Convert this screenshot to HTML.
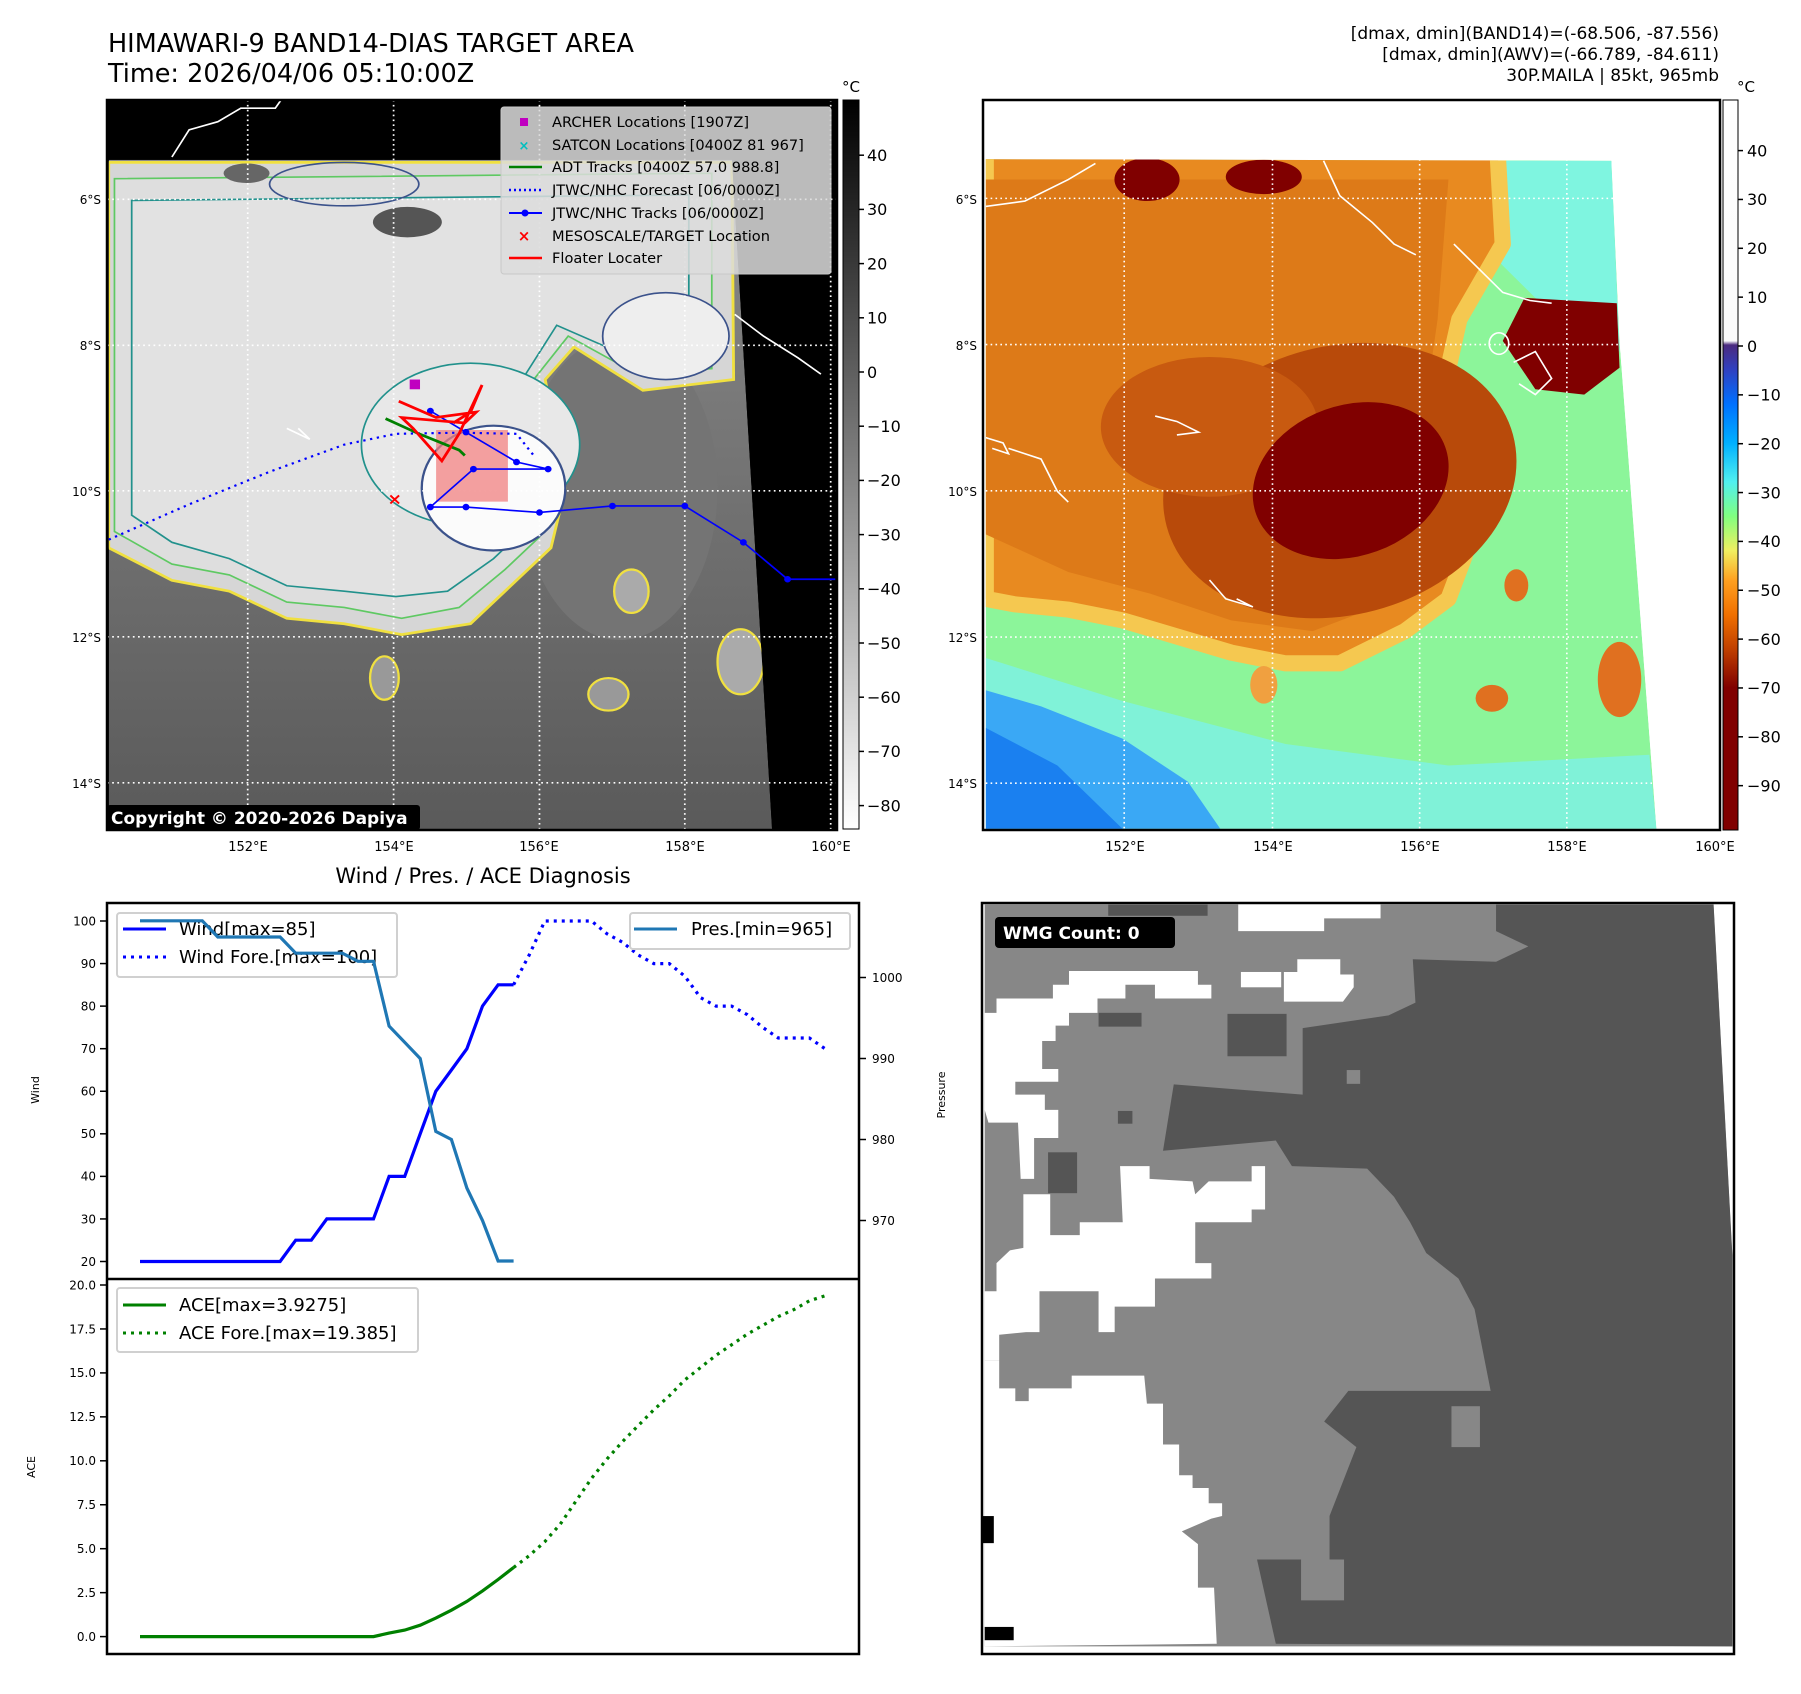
<!DOCTYPE html>
<html><head><meta charset="utf-8">
<style>
html,body{margin:0;padding:0;background:#fff;}
body{width:1801px;height:1690px;overflow:hidden;font-family:"DejaVu Sans","Liberation Sans",sans-serif;}
svg text{font-family:"DejaVu Sans","Liberation Sans",sans-serif;}
</style></head>
<body>
<svg id="root" width="1801" height="1690" viewBox="0 0 1801 1690" xmlns="http://www.w3.org/2000/svg">
<defs>
  <linearGradient id="cb1" x1="0" y1="0" x2="0" y2="1">
    <stop offset="0" stop-color="#000"/><stop offset="1" stop-color="#fff"/>
  </linearGradient>
  <linearGradient id="cb2" x1="0" y1="0" x2="0" y2="1">
    <stop offset="0" stop-color="#ffffff"/><stop offset="0.33" stop-color="#fafafa"/>
    <stop offset="0.3356" stop-color="#4b2a7f"/><stop offset="0.369" stop-color="#3040c0"/>
    <stop offset="0.416" stop-color="#0070ff"/><stop offset="0.47" stop-color="#00b0ff"/>
    <stop offset="0.523" stop-color="#50f0f0"/><stop offset="0.57" stop-color="#80ff80"/>
    <stop offset="0.617" stop-color="#f0f060"/><stop offset="0.658" stop-color="#ffa020"/>
    <stop offset="0.705" stop-color="#f07000"/><stop offset="0.752" stop-color="#c04000"/>
    <stop offset="0.805" stop-color="#800000"/><stop offset="1" stop-color="#800000"/>
  </linearGradient>
  <linearGradient id="lowgray" x1="0" y1="0" x2="0" y2="1">
    <stop offset="0" stop-color="#8a8a8a"/><stop offset="1" stop-color="#5a5a5a"/>
  </linearGradient>
</defs>

<!-- titles -->
<text x="108" y="52" font-size="25.5">HIMAWARI-9 BAND14-DIAS TARGET AREA</text>
<text x="108" y="82" font-size="25.5">Time: 2026/04/06 05:10:00Z</text>
<g font-size="17" text-anchor="end">
  <text x="1719" y="39">[dmax, dmin](BAND14)=(-68.506, -87.556)</text>
  <text x="1719" y="60">[dmax, dmin](AWV)=(-66.789, -84.611)</text>
  <text x="1719" y="81">30P.MAILA | 85kt, 965mb</text>
</g>

<!-- MAP 1 -->
<svg x="107" y="100" width="730" height="730" viewBox="187 185 1271 1345" preserveAspectRatio="none">
  <defs><clipPath id="m1clip"><polygon points="190,295 1275,295 1345,1530 190,1530"/></clipPath></defs>
  <rect x="187" y="185" width="1271" height="1345" fill="#000"/>
  <g clip-path="url(#m1clip)">
  <polygon points="190,295 1275,295 1345,1530 190,1530" fill="url(#lowgray)"/>
  <ellipse cx="1080" cy="900" rx="170" ry="280" fill="#747474"/>
  <polygon points="190,300 1275,300 1278,700 1120,720 1000,640 950,700 985,900 960,1010 900,1070 820,1150 700,1170 600,1150 500,1140 400,1090 300,1070 190,1010" fill="#d6d6d6" stroke="#f0e040" stroke-width="5"/>
  <polygon points="200,330 1240,320 1240,680 1110,690 990,620 930,700 960,900 940,990 880,1050 800,1120 700,1140 600,1120 500,1110 400,1060 300,1040 200,980" fill="#dedede" stroke="#5ec962" stroke-width="3"/>
  <polygon points="230,370 1200,360 1200,650 1100,660 970,600 910,700 940,900 910,980 860,1030 780,1090 690,1100 600,1090 500,1080 400,1030 300,1000 230,950" fill="#e2e2e2" stroke="#21918c" stroke-width="3"/>
  <ellipse cx="710" cy="410" rx="60" ry="28" fill="#555"/>
  <ellipse cx="430" cy="320" rx="40" ry="18" fill="#666"/>
  <ellipse cx="1160" cy="620" rx="110" ry="80" fill="#eeeeee" stroke="#3b528b" stroke-width="3"/>
  <ellipse cx="820" cy="820" rx="190" ry="150" fill="#e8e8e8" stroke="#21918c" stroke-width="3"/>
  <ellipse cx="860" cy="900" rx="125" ry="115" fill="#fbfbfb" stroke="#3b528b" stroke-width="4"/>
  <ellipse cx="600" cy="340" rx="130" ry="40" fill="none" stroke="#3b528b" stroke-width="3"/>
  <ellipse cx="1100" cy="1090" rx="30" ry="40" fill="#aaa" stroke="#f0e040" stroke-width="4"/>
  <ellipse cx="1060" cy="1280" rx="35" ry="30" fill="#999" stroke="#f0e040" stroke-width="4"/>
  <ellipse cx="1290" cy="1220" rx="40" ry="60" fill="#aaa" stroke="#f0e040" stroke-width="4"/>
  <ellipse cx="670" cy="1250" rx="25" ry="40" fill="#999" stroke="#f0e040" stroke-width="4"/>
  </g>
  <polyline points="300,290 330,240 380,225 420,200 480,200 490,185" fill="none" stroke="#fff" stroke-width="3"/>
  <polyline points="1280,580 1330,620 1390,660 1430,690" fill="none" stroke="#fff" stroke-width="3"/>
  <polyline points="500,790 540,810 520,790" fill="none" stroke="#fff" stroke-width="3"/>
  <g stroke="#fff" stroke-width="3" stroke-dasharray="3 6">
    <line x1="432" y1="185" x2="432" y2="1530"/><line x1="686" y1="185" x2="686" y2="1530"/>
    <line x1="940" y1="185" x2="940" y2="1530"/><line x1="1193" y1="185" x2="1193" y2="1530"/>
    <line x1="1447" y1="185" x2="1447" y2="1530"/>
    <line x1="187" y1="368" x2="1458" y2="368"/><line x1="187" y1="637" x2="1458" y2="637"/>
    <line x1="187" y1="905" x2="1458" y2="905"/><line x1="187" y1="1174" x2="1458" y2="1174"/>
    <line x1="187" y1="1443" x2="1458" y2="1443"/>
  </g>
  <rect x="760" y="793" width="125" height="132" fill="#f08080" opacity="0.75"/>
  <polyline points="190,995 330,930 470,870 600,820 690,800 800,798 900,800 930,840" fill="none" stroke="#00f" stroke-width="4" stroke-dasharray="4 8"/>
  <polyline points="750,758 812,797 900,852 955,865 825,865 750,935 812,935 940,945 1067,933 1193,933 1295,1000 1372,1068 1455,1068" fill="none" stroke="#00f" stroke-width="3"/>
  <g fill="#00f"><circle cx="750" cy="758" r="6"/><circle cx="812" cy="797" r="6"/><circle cx="900" cy="852" r="6"/><circle cx="955" cy="865" r="6"/><circle cx="825" cy="865" r="6"/><circle cx="750" cy="935" r="6"/><circle cx="812" cy="935" r="6"/><circle cx="940" cy="945" r="6"/><circle cx="1067" cy="933" r="6"/><circle cx="1193" cy="933" r="6"/><circle cx="1295" cy="1000" r="6"/><circle cx="1372" cy="1068" r="6"/></g>
  <polyline points="672,772 730,800 800,830 810,840" fill="none" stroke="#008000" stroke-width="5"/>
  <polyline points="695,740 760,770 830,760 810,780 700,770 720,790 770,850 800,800 840,710 820,760 790,780" fill="none" stroke="#f00" stroke-width="5"/>
  <rect x="714" y="700" width="18" height="18" fill="#c000c0"/>
  <text x="688" y="930" font-size="30" fill="#f00" text-anchor="middle" font-weight="bold">×</text>
</svg>
<rect x="107" y="100" width="730" height="730" fill="none" stroke="#000" stroke-width="2.5"/>
<g>
  <rect x="501" y="107" width="330" height="167" rx="3" fill="#dcdcdc" fill-opacity="0.85" stroke="#c8c8c8"/>
  <rect x="520" y="118" width="8" height="8" fill="#c000c0"/>
  <text x="524" y="150" font-size="13" fill="#00bfbf" text-anchor="middle" font-weight="bold">×</text>
  <line x1="509" y1="167" x2="542" y2="167" stroke="#008000" stroke-width="2.5"/>
  <line x1="509" y1="190" x2="542" y2="190" stroke="#00f" stroke-width="2.5" stroke-dasharray="2 3"/>
  <line x1="509" y1="213" x2="542" y2="213" stroke="#00f" stroke-width="2"/><circle cx="525" cy="213" r="3.5" fill="#00f"/>
  <text x="524" y="241" font-size="15" fill="#f00" text-anchor="middle" font-weight="bold">×</text>
  <line x1="509" y1="258" x2="542" y2="258" stroke="#f00" stroke-width="2.5"/>
  <g font-size="14.6" fill="#000">
    <text x="552" y="127">ARCHER Locations [1907Z]</text>
    <text x="552" y="150">SATCON Locations [0400Z 81 967]</text>
    <text x="552" y="172">ADT Tracks [0400Z 57.0 988.8]</text>
    <text x="552" y="195">JTWC/NHC Forecast [06/0000Z]</text>
    <text x="552" y="218">JTWC/NHC Tracks [06/0000Z]</text>
    <text x="552" y="241">MESOSCALE/TARGET Location</text>
    <text x="552" y="263">Floater Locater</text>
  </g>
</g>
<g>
  <rect x="107" y="805" width="313" height="25" rx="3" fill="#000"/>
  <text x="111" y="824" font-size="17" font-weight="bold" fill="#fff">Copyright © 2020-2026 Dapiya</text>
</g>
<g font-size="12" text-anchor="end">
  <text x="101" y="204">6°S</text><text x="101" y="350">8°S</text><text x="101" y="496">10°S</text><text x="101" y="642">12°S</text><text x="101" y="788">14°S</text>
</g>
<g font-size="13" text-anchor="middle">
  <text x="248" y="851">152°E</text><text x="394" y="851">154°E</text><text x="539" y="851">156°E</text><text x="685" y="851">158°E</text><text x="831" y="851">160°E</text>
</g>
<g>
  <rect x="843" y="100" width="16" height="729" fill="url(#cb1)" stroke="#000" stroke-width="1"/>
  <text x="851" y="92" font-size="15" text-anchor="middle">°C</text>
  <g id="cb1ticks" font-size="16"></g>
</g>

<!-- MAP 2 -->
<svg x="983" y="100" width="737" height="730" viewBox="43 152 1357 1358" preserveAspectRatio="none">
  <defs><clipPath id="m2clip"><polygon points="48,262 1200,265 1215,600 1283,1508 48,1508"/></clipPath></defs>
  <rect x="43" y="152" width="1357" height="1358" fill="#fff"/>
  <g clip-path="url(#m2clip)">
  <polygon points="48,262 1200,265 1215,600 1283,1508 48,1508" fill="#8cf59a"/>
  <polygon points="880,265 1200,265 1215,620 1100,560 1000,460 930,380" fill="#7ff5e0"/>
  <polygon points="48,1190 300,1270 600,1350 900,1390 1270,1370 1283,1508 48,1508" fill="#80f2d8"/>
  <polygon points="48,1250 150,1280 300,1340 420,1420 480,1508 48,1508" fill="#3aa8f5"/>
  <polygon points="48,1320 180,1390 300,1508 48,1508" fill="#1a80f0"/>
  <polygon points="48,240 990,240 1000,420 920,560 900,650 930,780 950,900 930,1000 900,1080 820,1140 700,1200 600,1200 500,1180 400,1150 300,1120 200,1100 100,1090 48,1080" fill="#e88a20" stroke="#f5c850" stroke-width="30" stroke-linejoin="round"/>
  <polygon points="48,300 900,300 880,560 860,700 880,900 850,1020 780,1090 650,1140 500,1120 350,1070 200,1030 48,960" fill="#dd7a18"/>
  <ellipse cx="700" cy="860" rx="330" ry="250" fill="#b84a0a" transform="rotate(-15 700 860)"/>
  <ellipse cx="460" cy="760" rx="200" ry="130" fill="#c85a10"/>
  <ellipse cx="720" cy="860" rx="185" ry="140" fill="#800000" transform="rotate(-20 720 860)"/>
  <ellipse cx="345" cy="300" rx="60" ry="40" fill="#800000"/>
  <ellipse cx="560" cy="295" rx="70" ry="32" fill="#800000"/>
  <polygon points="1040,520 1210,530 1215,650 1150,700 1060,690 1000,600" fill="#800000"/>
  <ellipse cx="1215" cy="1230" rx="40" ry="70" fill="#e07020"/>
  <ellipse cx="980" cy="1265" rx="30" ry="25" fill="#e07020"/>
  <ellipse cx="1025" cy="1055" rx="22" ry="30" fill="#e07020"/>
  <ellipse cx="560" cy="1240" rx="25" ry="35" fill="#f0a040"/>
  <g fill="none" stroke="#fff" stroke-width="3">
    <polyline points="670,265 700,330 760,380 800,420 840,440"/>
    <polyline points="910,420 960,470 1000,510 1050,525 1090,530"/>
    <ellipse cx="993" cy="605" rx="18" ry="20"/>
    <polyline points="1020,640 1060,620 1090,670 1060,700 1030,680"/>
    <polyline points="360,740 400,750 440,770 400,775"/>
    <polyline points="460,1045 490,1080 540,1095 510,1080"/>
    <polyline points="48,780 80,790 90,810 60,800"/>
    <polyline points="90,800 150,820 180,880 200,900"/>
    <polyline points="48,350 120,340 200,300 250,270"/>
  </g>
  </g>
  <g stroke="#fff" stroke-width="3" stroke-dasharray="3 6">
    <line x1="303" y1="262" x2="303" y2="1510"/><line x1="576" y1="262" x2="576" y2="1510"/>
    <line x1="847" y1="262" x2="847" y2="1510"/><line x1="1118" y1="262" x2="1118" y2="1510"/>
    <line x1="48" y1="335" x2="1215" y2="335"/><line x1="48" y1="607" x2="1215" y2="607"/>
    <line x1="48" y1="879" x2="1230" y2="879"/><line x1="48" y1="1151" x2="1250" y2="1151"/>
    <line x1="48" y1="1423" x2="1275" y2="1423"/>
  </g>
</svg>
<rect x="983" y="100" width="737" height="730" fill="none" stroke="#000" stroke-width="2.5"/>
<g font-size="12" text-anchor="end">
  <text x="977" y="204">6°S</text><text x="977" y="350">8°S</text><text x="977" y="496">10°S</text><text x="977" y="642">12°S</text><text x="977" y="788">14°S</text>
</g>
<g font-size="13" text-anchor="middle">
  <text x="1125" y="851">152°E</text><text x="1273" y="851">154°E</text><text x="1420" y="851">156°E</text><text x="1567" y="851">158°E</text><text x="1715" y="851">160°E</text>
</g>
<g>
  <rect x="1723" y="100" width="15" height="730" fill="url(#cb2)" stroke="#000" stroke-width="1"/>
  <text x="1746" y="92" font-size="15" text-anchor="middle">°C</text>
  <g id="cb2ticks" font-size="16"></g>
</g>

<!-- WMG panel -->
<svg x="982" y="903" width="752" height="751" viewBox="43 45 1400 1470" preserveAspectRatio="none">
  <rect x="43" y="45" width="1400" height="1470" fill="#fff"/>
  <polygon points="48,48 1405,48 1440,735 1440,1500 48,1500" fill="#878787"/>
  <g fill="#fff">
    <polygon points="48,940 75,940 75,995 105,995 105,1020 130,1020 130,995 210,995 210,970 345,970 350,1025 380,1025 380,1105 410,1105 410,1165 435,1165 435,1190 465,1190 465,1220 490,1220 490,1245 470,1250 415,1275 445,1300 445,1385 475,1385 480,1495 48,1500"/>
    <polygon points="70,750 95,725 120,720 120,615 170,615 170,695 225,695 225,670 305,670 300,560 355,560 355,585 435,590 440,615 465,590 545,590 545,560 570,560 570,645 545,645 545,670 440,670 440,750 470,750 470,780 365,780 365,835 290,835 290,885 260,885 260,805 150,805 150,885 125,885 75,890 75,940 48,940 48,805 70,805"/>
    <polygon points="48,260 70,260 70,232 175,232 175,205 205,205 205,178 445,178 445,205 470,205 470,232 365,232 365,205 310,205 310,232 258,232 258,260 205,260 205,285 180,285 180,315 155,315 155,370 185,370 185,395 105,395 105,420 160,420 160,450 185,450 185,505 140,505 140,585 115,585 110,475 55,475 48,450"/>
    <polygon points="520,48 785,48 785,75 680,75 680,100 520,100"/>
    <rect x="525" y="180" width="75" height="30"/>
    <polygon points="605,180 630,180 630,155 710,155 710,185 735,185 735,210 715,238 605,238"/>
    <polygon points="1405,48 1440,48 1440,735"/>
  </g>
  <polygon fill="#555" points="1000,48 1405,48 1440,735 1440,1500 590,1495 555,1330 690,1330 690,1245 740,1110 680,1060 725,1000 990,1000 960,840 930,780 870,730 840,670 810,620 760,565 620,560 590,510 380,530 400,400 640,420 640,290 800,265 850,240 845,155 1000,160 1060,130 1000,100"/>
  <g fill="#555"><rect x="500" y="262" width="110" height="83"/><rect x="260" y="260" width="80" height="27"/><rect x="278" y="48" width="185" height="22"/><rect x="166" y="533" width="54" height="80"/><rect x="296" y="452" width="27" height="25"/></g>
  <g fill="#878787"><rect x="637" y="1330" width="80" height="80"/><rect x="722" y="372" width="25" height="27"/><rect x="917" y="1030" width="53" height="80"/></g>
  <rect x="43" y="1245" width="22" height="53" fill="#000"/>
  <rect x="48" y="1462" width="54" height="26" fill="#000"/>
</svg>
<rect x="982" y="903" width="752" height="751" fill="none" stroke="#000" stroke-width="2.5"/>
<g>
  <rect x="995" y="917" width="180" height="31" rx="4" fill="#000"/>
  <text x="1003" y="939" font-size="17" font-weight="bold" fill="#fff">WMG Count: 0</text>
</g>

<!-- Diagnosis chart -->
<text x="483" y="883" font-size="21" text-anchor="middle">Wind / Pres. / ACE Diagnosis</text>
<g id="chartBase"></g>
<g>
  <rect x="117" y="913" width="280" height="64" rx="3" fill="#fff" fill-opacity="0.8" stroke="#d0d0d0" stroke-width="2"/>
  <line x1="123" y1="929" x2="166" y2="929" stroke="#00f" stroke-width="3"/>
  <line x1="123" y1="957" x2="166" y2="957" stroke="#00f" stroke-width="3" stroke-dasharray="3 5"/>
  <text x="179" y="935" font-size="18">Wind[max=85]</text>
  <text x="179" y="963" font-size="18">Wind Fore.[max=100]</text>
</g>
<g id="chartTop"></g>
<g>
  <rect x="630" y="913" width="220" height="36" rx="3" fill="#fff" fill-opacity="0.8" stroke="#d0d0d0" stroke-width="2"/>
  <line x1="634" y1="929" x2="677" y2="929" stroke="#1f77b4" stroke-width="3"/>
  <text x="691" y="935" font-size="18">Pres.[min=965]</text>
</g>
<g>
  <rect x="117" y="1288" width="301" height="64" rx="3" fill="#fff" fill-opacity="0.8" stroke="#d0d0d0" stroke-width="2"/>
  <line x1="123" y1="1305" x2="166" y2="1305" stroke="#008000" stroke-width="3"/>
  <line x1="123" y1="1333" x2="166" y2="1333" stroke="#008000" stroke-width="3" stroke-dasharray="3 5"/>
  <text x="179" y="1311" font-size="18">ACE[max=3.9275]</text>
  <text x="179" y="1339" font-size="18">ACE Fore.[max=19.385]</text>
</g>
<rect x="107" y="903" width="752" height="751" fill="none" stroke="#000" stroke-width="2.5"/>
<line x1="107" y1="1279" x2="859" y2="1279" stroke="#000" stroke-width="2.5"/>
<text transform="translate(39,1090) rotate(-90)" font-size="11" text-anchor="middle">Wind</text>
<text transform="translate(945,1095) rotate(-90)" font-size="11" text-anchor="middle">Pressure</text>
<text transform="translate(35,1467) rotate(-90)" font-size="11" text-anchor="middle">ACE</text>
</svg>

<script>
const NS = "http://www.w3.org/2000/svg";
const windObs = [20,20,20,20,20,20,20,20,20,20,25,25,30,30,30,30,40,40,50,60,65,70,80,85,85];
const windFore = [85,92,100,100,100,100,97,95,92,90,90,87,82,80,80,78,75,72.5,72.5,72.5,70];
const presObs = [1007,1007,1007,1007,1007,1005,1005,1005,1005,1005,1003,1003,1003,1003,1002,1002,994,992,990,981,980,974,970,965,965];
const aceObs = [0,0,0,0,0,0,0,0,0,0,0,0,0,0,0,0,0.2,0.37,0.65,1.05,1.5,2.0,2.6,3.25,3.93];
const aceFore = [3.93,4.6,5.4,6.4,7.7,9.0,10.1,11.1,12.0,12.9,13.7,14.6,15.3,16.0,16.6,17.2,17.7,18.2,18.6,19.1,19.385];
const windTicks = [20,30,40,50,60,70,80,90,100];
const presTicks = [970,980,990,1000];
const aceTicks = [0,2.5,5,7.5,10,12.5,15,17.5,20];
const cb1Ticks = [40,30,20,10,0,-10,-20,-30,-40,-50,-60,-70,-80];
const cb2Ticks = [40,30,20,10,0,-10,-20,-30,-40,-50,-60,-70,-80,-90];

const xOf = i => 140 + i * (825 - 140) / 44;
const windY = v => 921 + (100 - v) * (1261.5 - 921) / 80;
const presY = p => 977.5 + (1000 - p) * 8.1;
const aceY = a => 1636.6 - a * (1636.6 - 1285) / 20;
const cb1Y = v => 372 - v * 5.42;
const cb2Y = v => 346 - v * 4.885;

const base = document.getElementById('chartBase');
const top2 = document.getElementById('chartTop');
function mk(tag, attrs, parent) {
  const el = document.createElementNS(NS, tag);
  for (const k in attrs) el.setAttribute(k, attrs[k]);
  parent.appendChild(el);
  return el;
}
function line(vals, off, yf, color, dash, name, parent) {
  const pts = vals.map((v, i) => xOf(i + off).toFixed(1) + ',' + yf(v).toFixed(1)).join(' ');
  const el = mk('polyline', {points: pts, fill: 'none', stroke: color, 'stroke-width': 3.2}, parent);
  if (dash) el.setAttribute('stroke-dasharray', '3 5');
  
  
}
line(windObs, 0, windY, '#0000ff', false, 'wind-observed-line', base);
line(windFore, 24, windY, '#0000ff', true, 'wind-forecast-line', base);
line(aceObs, 0, aceY, '#008000', false, 'ace-observed-line', base);
line(aceFore, 24, aceY, '#008000', true, 'ace-forecast-line', base);
line(presObs, 0, presY, '#1f77b4', false, 'pressure-line', top2);

function tick(x1, x2, y, label, anchor, tx, parent, fs) {
  mk('line', {x1: x1, x2: x2, y1: y, y2: y, stroke: '#000', 'stroke-width': 1.5}, parent);
  const t = mk('text', {x: tx, y: y + fs * 0.36, 'font-size': fs, 'text-anchor': anchor}, parent);
  t.textContent = label;
  
  
}
windTicks.forEach(v => tick(100, 107, windY(v), String(v), 'end', 96, base, 12));
presTicks.forEach(v => tick(859, 866, presY(v), String(v), 'start', 872, top2, 12));
aceTicks.forEach(v => tick(100, 107, aceY(v), v.toFixed(1), 'end', 96, base, 12));
const g1 = document.getElementById('cb1ticks');
cb1Ticks.forEach(v => tick(859, 864, cb1Y(v), (v < 0 ? '\u2212' + (-v) : String(v)), 'start', 867, g1, 16));
const g2 = document.getElementById('cb2ticks');
cb2Ticks.forEach(v => tick(1738, 1743, cb2Y(v), (v < 0 ? '\u2212' + (-v) : String(v)), 'start', 1747, g2, 16));
</script>
</body></html>
